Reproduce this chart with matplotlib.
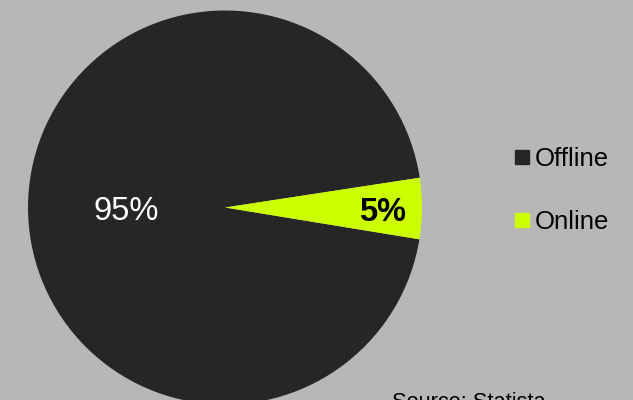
import matplotlib.pyplot as plt
from matplotlib.lines import Line2D
import numpy as np

labels = ['Offline', 'Online']
shares = [95, 5]
colors = ['#262626', '#ccff00']
text_colors = ['white', 'black']
text_weights = ['normal', 'bold']
label_dist = [0.5, 0.8]   # fraction of radius where each percentage sits

bg = '#b8b6b7'
plt.rcParams['font.family'] = ['Liberation Sans', 'DejaVu Sans']

fig = plt.figure(figsize=(6.33, 4), dpi=100, facecolor=bg)
ax = fig.add_axes([0, 0, 1, 1])
ax.set_facecolor(bg)

cx, cy, r = 225, 192.5, 197
wedges, _ = ax.pie(shares, colors=colors, startangle=8.7, counterclock=True,
                   center=(cx, cy), radius=r, frame=True)
ax.set_xlim(0, 633)
ax.set_ylim(0, 400)
ax.set_aspect('equal')
ax.axis('off')

# percentage labels placed along each wedge's bisector
for w, val, tc, tw, d in zip(wedges, shares, text_colors, text_weights, label_dist):
    mid = np.deg2rad((w.theta1 + w.theta2) / 2)
    ax.text(cx + d * r * np.cos(mid), cy + d * r * np.sin(mid) - 4.5, f'{val}%',
            ha='center', va='center', color=tc, fontsize=23.5, fontweight=tw)

handles = [Line2D([], [], marker='s', linestyle='none', markersize=10,
                  markerfacecolor=c, markeredgecolor=c) for c in colors]
leg = ax.legend(handles, labels, loc='upper left', bbox_to_anchor=(504 / 633, 1 - 137 / 400),
                frameon=False, fontsize=18.5, handlelength=0.6, handletextpad=0.2,
                labelspacing=1.5, borderaxespad=0)

ax.text(392, 400 - 407.5, 'Source: Statista', fontsize=15.7, ha='left', va='baseline',
        color='black', clip_on=False)

fig.savefig('out.png', dpi=100, facecolor=bg)
